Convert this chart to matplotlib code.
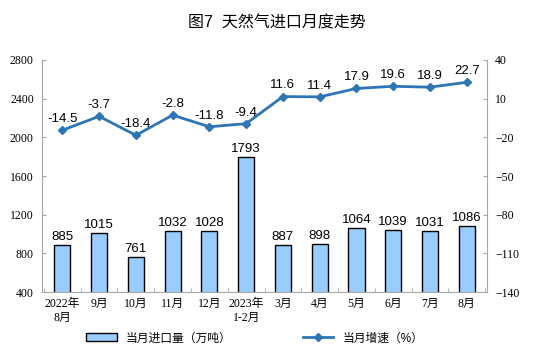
import matplotlib
matplotlib.use('Agg')
import matplotlib.pyplot as plt
import numpy as np

plt.rcParams['font.family'] = ['Liberation Sans', 'Noto Sans CJK SC']

# 数据
months = ['2022年\n8月', '9月', '10月', '11月', '12月', '2023年\n1-2月',
          '3月', '4月', '5月', '6月', '7月', '8月']
volume = [885, 1015, 761, 1032, 1028, 1793, 887, 898, 1064, 1039, 1031, 1086]
growth = [-14.5, -3.7, -18.4, -2.8, -11.8, -9.4, 11.6, 11.4, 17.9, 19.6, 18.9, 22.7]

bar_color = '#99CCFF'
line_color = '#2E75B6'
axis_color = '#A6A6A6'
tick_fonts = ['Liberation Serif', 'Noto Sans CJK SC']

fig = plt.figure(figsize=(5.54, 3.57), dpi=100)
ax = fig.add_axes([0.076, 0.182, 0.803, 0.650])
ax2 = ax.twinx()

x = np.arange(len(months))
ax.bar(x, volume, width=0.44, color=bar_color, edgecolor='black', linewidth=1.0,
       label='当月进口量（万吨）', zorder=2)
for xi, v in zip(x, volume):
    ax.text(xi, v + 20, f'{v}', ha='center', va='bottom', fontsize=9.5)

ax.set_ylim(400, 2800)
ax.set_yticks(range(400, 2801, 400))
ax.set_xlim(-0.55, len(months) - 0.45)
ax.set_xticks(x)
ax.set_xticklabels(months, fontsize=8.5, family=tick_fonts, linespacing=1.25)
ax.set_xticks(np.arange(-0.5, len(months), 1), minor=True)
ax.tick_params(axis='x', which='major', length=0, pad=4)
ax.tick_params(axis='x', which='minor', length=3, direction='in', color=axis_color)
ax.tick_params(axis='y', length=3, direction='in', color=axis_color, labelsize=8.5, pad=6)
for lab in ax.get_yticklabels():
    lab.set_family(tick_fonts)

ax2.plot(x, growth, color=line_color, linewidth=2, marker='D', markersize=4,
         label='当月增速（%）', zorder=3)
for xi, v in zip(x, growth):
    ax2.text(xi, v + 4, f'{v}', ha='center', va='bottom', fontsize=9.5)
ax2.set_ylim(-140, 40)
ax2.set_yticks(range(-140, 41, 30))
ax2.tick_params(axis='y', length=3, direction='in', color=axis_color, labelsize=8.5, pad=6)
for lab in ax2.get_yticklabels():
    lab.set_family(tick_fonts)

for a in (ax, ax2):
    a.spines['top'].set_visible(False)
    for s in ('left', 'right', 'bottom'):
        a.spines[s].set_color(axis_color)
ax.spines['right'].set_visible(False)
ax2.spines['left'].set_visible(False)
ax2.spines['bottom'].set_visible(False)

fig.text(0.5, 0.935, '图7  天然气进口月度走势', ha='center', va='center',
         fontsize=11.5)

h1, l1 = ax.get_legend_handles_labels()
h2, l2 = ax2.get_legend_handles_labels()
fig.legend(h1 + h2, l1 + l2, loc='center', bbox_to_anchor=(0.46, 0.052), ncol=2,
           frameon=False, fontsize=8.5, columnspacing=6, handlelength=2.6)

fig.savefig('out.png', dpi=100)
